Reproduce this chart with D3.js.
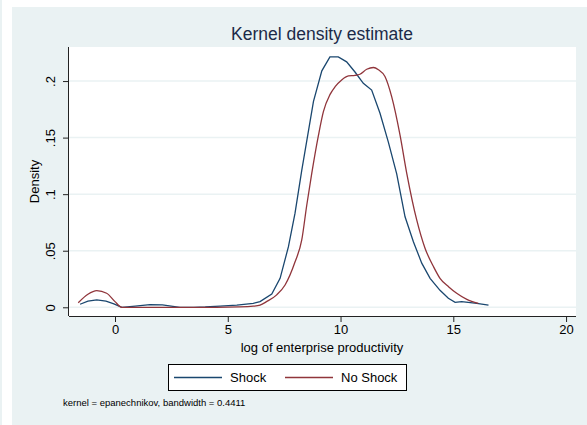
<!DOCTYPE html>
<html>
  <head>
    <meta http-equiv="Content-Type" content="text/html;charset=utf-8"/>
    <title>Kernel density estimate</title>
    <script src="https://d3js.org/d3.v7.min.js" charset="utf-8"></script>
    <style>
      body { margin: 0; background: #fff; }
      text { font-family: 'Liberation Sans', Arial, sans-serif; }
    </style>
  </head>
  <body>
    <div id="chart"></div>
  <script>
  ////////////////////////////////////////////////////////////
  ///////////////////////// Data /////////////////////////////
  ////////////////////////////////////////////////////////////

  var shockX = [-1.55, -1.2, -0.81, -0.4, -0.05, 0.3, 0.9, 1.55, 2.1, 2.88, 3.5, 4.0, 4.66, 5.4, 6.13, 6.43, 6.95, 7.32, 7.69, 7.98, 8.28, 8.8, 9.17, 9.53, 9.9, 10.27, 10.64, 11.01, 11.38, 11.75, 12.12, 12.49, 12.86, 13.23, 13.6, 13.97, 14.41, 14.78, 15.08, 15.37, 16.04, 16.56];
  var shockY = [0.0027, 0.0055, 0.0065, 0.0055, 0.003, 0.0, 0.001, 0.0023, 0.0022, 0.0, 0.0, 0.0003, 0.001, 0.002, 0.0035, 0.005, 0.0118, 0.0256, 0.0536, 0.083, 0.121, 0.182, 0.209, 0.2213, 0.2213, 0.217, 0.208, 0.198, 0.192, 0.1715, 0.146, 0.118, 0.080, 0.058, 0.039, 0.0256, 0.0150, 0.008, 0.0044, 0.005, 0.0035, 0.002];

  var noShockX = [-1.63, -1.2, -0.81, -0.37, 0.0, 0.3, 1.5, 3.0, 4.5, 5.5, 6.13, 6.43, 6.72, 7.17, 7.54, 7.98, 8.28, 8.5, 8.72, 9.02, 9.24, 9.53, 9.76, 10.05, 10.35, 10.64, 10.86, 11.16, 11.46, 11.68, 11.97, 12.27, 12.64, 12.94, 13.38, 13.75, 14.12, 14.41, 14.8, 15.15, 15.6, 16.11];
  var noShockY = [0.004, 0.0115, 0.0147, 0.0124, 0.005, 0.0, 0.0, 0.0, 0.0, 0.0003, 0.001, 0.002, 0.005, 0.011, 0.0197, 0.040, 0.0595, 0.090, 0.118, 0.152, 0.173, 0.188, 0.195, 0.201, 0.2045, 0.205, 0.206, 0.2104, 0.212, 0.21, 0.204, 0.186, 0.152, 0.118, 0.077, 0.052, 0.036, 0.0256, 0.018, 0.0124, 0.007, 0.0035];

  var xTicks = [0, 5, 10, 15, 20];
  var yTicks = [0, 0.05, 0.1, 0.15, 0.2];
  var yTickLabels = ["0", ".05", ".1", ".15", ".2"];
  var seriesNames = ["Shock", "No Shock"];

  ////////////////////////////////////////////////////////////
  //////////////////////// Set-Up ////////////////////////////
  ////////////////////////////////////////////////////////////

  var width = 587, height = 425;
  var plot = {left: 69, top: 47, right: 576, bottom: 316};
  var bg = "#eaf2f3";
  var colors = ["#1a476f", "#90353b"];

  var x = d3.scaleLinear().domain([-2.04, 20.44]).range([plot.left, plot.right]);
  var y = d3.scaleLinear().domain([-0.0077, 0.2301]).range([plot.bottom, plot.top]);

  var svg = d3.select("#chart").append("svg")
              .attr("width", width)
              .attr("height", height);

  // outer background
  svg.append("rect").attr("x", 0).attr("y", 0).attr("width", 2).attr("height", height).style("fill", bg);
  svg.append("rect").attr("x", 12).attr("y", 7).attr("width", width - 12).attr("height", height - 7).style("fill", bg);

  // plot region
  svg.append("rect")
     .attr("x", plot.left).attr("y", plot.top)
     .attr("width", plot.right - plot.left).attr("height", plot.bottom - plot.top)
     .style("fill", "#fff");

  // gridlines
  svg.selectAll("line.grid")
     .data(yTicks)
     .enter().append("line")
     .attr("class", "grid")
     .attr("x1", plot.left).attr("x2", plot.right)
     .attr("y1", function(d) { return y(d); })
     .attr("y2", function(d) { return y(d); })
     .style("stroke", bg)
     .style("stroke-width", 1.5);

  ////////////////////////////////////////////////////////////
  //////////////////////// Axes //////////////////////////////
  ////////////////////////////////////////////////////////////

  var xAxis = svg.append("g")
     .attr("transform", "translate(0," + plot.bottom + ")")
     .call(d3.axisBottom(x).tickValues(xTicks).tickSize(6).tickPadding(3).tickSizeOuter(0));
  xAxis.select(".domain").attr("d", "M" + plot.left + ",0.5H" + plot.right);
  xAxis.selectAll("text").style("font-size", "13px").style("fill", "#000");

  var yAxis = svg.append("g")
     .attr("transform", "translate(" + plot.left + ",0)")
     .call(d3.axisLeft(y).tickValues(yTicks).tickSize(6).tickSizeOuter(0)
           .tickFormat(function(d, i) { return yTickLabels[i]; }));
  yAxis.select(".domain").attr("d", "M-0.5," + plot.bottom + "V" + plot.top);
  yAxis.selectAll(".tick text")
       .attr("x", 0).attr("dy", 0)
       .attr("transform", "translate(-14,0) rotate(-90)")
       .attr("text-anchor", "middle")
       .style("font-size", "13px").style("fill", "#000");
  svg.selectAll(".domain, .tick line").style("stroke", "#222");

  svg.append("text")
     .attr("transform", "translate(39," + ((plot.top + plot.bottom) / 2) + ") rotate(-90)")
     .attr("text-anchor", "middle")
     .style("font-size", "13px")
     .text("Density");

  svg.append("text")
     .attr("x", 322).attr("y", 352)
     .attr("text-anchor", "middle")
     .style("font-size", "13px")
     .text("log of enterprise productivity");

  svg.append("text")
     .attr("x", 322).attr("y", 40)
     .attr("text-anchor", "middle")
     .style("font-size", "17.5px")
     .style("fill", "#1c2a48")
     .text("Kernel density estimate");

  ////////////////////////////////////////////////////////////
  //////////////////////// Lines /////////////////////////////
  ////////////////////////////////////////////////////////////

  // blue is a plain polyline, red is drawn smoother
  var curves = [d3.curveLinear, d3.curveMonotoneX];

  var series = [d3.zip(shockX, shockY), d3.zip(noShockX, noShockY)];

  svg.selectAll("path.density")
     .data(series)
     .enter().append("path")
     .attr("class", "density")
     .attr("d", function(d, i) {
        return d3.line()
                 .curve(curves[i])
                 .x(function(p) { return x(p[0]); })
                 .y(function(p) { return y(p[1]); })(d);
     })
     .style("fill", "none")
     .style("stroke", function(d, i) { return colors[i]; })
     .style("stroke-width", 1.3);

  ////////////////////////////////////////////////////////////
  //////////////////////// Legend ////////////////////////////
  ////////////////////////////////////////////////////////////

  var legend = svg.append("g").attr("transform", "translate(168,364)");
  legend.append("rect")
        .attr("x", 0.5).attr("y", 0.5).attr("width", 238).attr("height", 26)
        .style("fill", "#fff").style("stroke", "#000").style("stroke-width", 1);

  var items = legend.selectAll("g.item")
        .data(seriesNames)
        .enter().append("g")
        .attr("transform", function(d, i) { return "translate(" + (6 + i * 111) + ",0)"; });
  items.append("line")
       .attr("x1", 0).attr("x2", 48).attr("y1", 13.5).attr("y2", 13.5)
       .style("stroke", function(d, i) { return colors[i]; })
       .style("stroke-width", 1.3);
  items.append("text")
       .attr("x", 56).attr("y", 18)
       .style("font-size", "13px")
       .text(function(d) { return d; });

  svg.append("text")
     .attr("x", 63).attr("y", 406)
     .style("font-size", "9.5px")
     .text("kernel = epanechnikov, bandwidth = 0.4411");
  </script>
  </body>
</html>
